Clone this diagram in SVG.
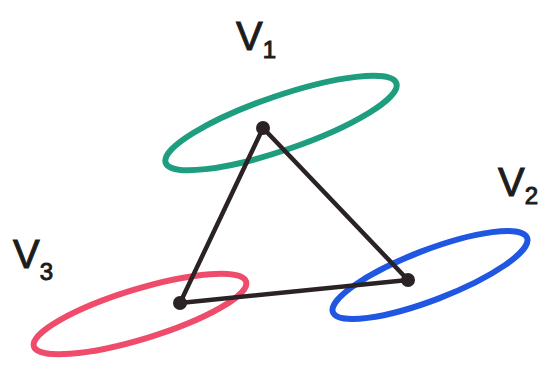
<svg xmlns="http://www.w3.org/2000/svg" width="545" height="367" viewBox="0 0 545 367">
<style>
.ring{fill:none;stroke-width:6}
.edge{stroke:#2b2226;stroke-width:4.5;stroke-linecap:round;stroke-linejoin:round;fill:none}
.dot{fill:#2b2226}
.lbl{font-family:"Liberation Sans",Arial,sans-serif;fill:#1c1c1c;stroke:#1c1c1c;stroke-width:1;font-size:40px}
.sub{font-size:24px}
</style>
<rect width="545" height="367" fill="#ffffff"/>
<g id="v1">
<ellipse class="ring" cx="281" cy="123" rx="122" ry="27" transform="rotate(-19 281 123)" stroke="#1f9e7f"/>
<text class="lbl" x="236" y="50">V<tspan class="sub" dy="8">1</tspan></text>
</g>
<g id="v2">
<ellipse class="ring" cx="430" cy="275" rx="104" ry="25" transform="rotate(-21 430 275)" stroke="#1f56e2"/>
<text class="lbl" x="498" y="196">V<tspan class="sub" dy="8">2</tspan></text>
</g>
<g id="v3">
<ellipse class="ring" cx="140" cy="314" rx="111" ry="25" transform="rotate(-17 140 314)" stroke="#ef4b6b"/>
<text class="lbl" x="13" y="268">V<tspan class="sub" dy="12">3</tspan></text>
</g>
<g id="connectors">
<path class="edge" d="M263 128 L408 280 L180 303 Z"/>
<circle class="dot" cx="263" cy="128" r="7"/>
<circle class="dot" cx="408" cy="280" r="7"/>
<circle class="dot" cx="180" cy="303" r="7"/>
</g>
</svg>
